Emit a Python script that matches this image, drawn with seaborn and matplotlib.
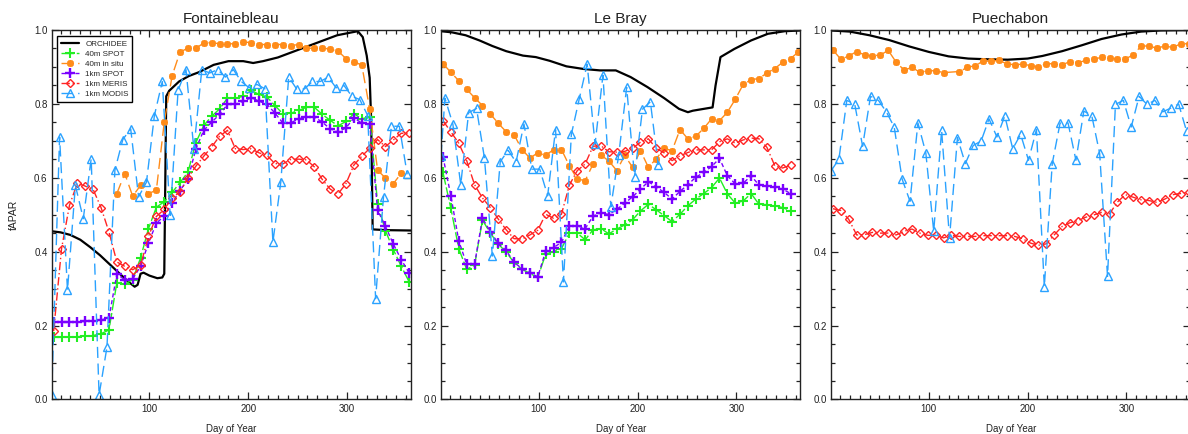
import numpy as np
import pandas as pd
import matplotlib
matplotlib.use("Agg")
import matplotlib.pyplot as plt
import seaborn as sns
from matplotlib.ticker import MultipleLocator

sns.set_style("ticks")
plt.rcParams['font.family'] = ['Liberation Sans', 'DejaVu Sans']

nan = np.nan

# 8-day composite days (SPOT, in situ, MERIS) and MODIS days
days8 = list(range(3, 364, 8))
modis_days = list(range(1, 362, 8))
modis_days_bray = [1] + list(range(5, 222, 8))

# ---------------- Fontainebleau ----------------
fon_orch_day = [1, 10, 20, 30, 40, 50, 60, 70, 78, 85, 88, 91, 94, 100, 108, 113, 115, 117, 120,
                130, 140, 150, 165, 180, 195, 205, 215, 230, 250, 270, 290, 305, 311, 316, 320,
                323, 324.5, 326, 340, 365]
fon_orch = [0.455, 0.452, 0.445, 0.432, 0.412, 0.39, 0.365, 0.34, 0.32, 0.305, 0.31, 0.34, 0.343,
            0.335, 0.328, 0.33, 0.34, 0.82, 0.835, 0.86, 0.875, 0.885, 0.905, 0.915, 0.915, 0.91,
            0.915, 0.925, 0.945, 0.965, 0.985, 0.993, 0.996, 0.98, 0.93, 0.87, 0.755, 0.46, 0.458,
            0.457]
fon_spot40 = [0.168, 0.168, 0.169, 0.170, 0.171, 0.173, 0.178, 0.188, 0.316, 0.312, 0.324, 0.383,
              0.462, 0.52, 0.535, 0.56, 0.587, 0.615, 0.695, 0.741, 0.766, 0.786, 0.815, 0.815,
              0.82, 0.836, 0.825, 0.818, 0.795, 0.773, 0.774, 0.782, 0.79, 0.79, 0.771, 0.755,
              0.74, 0.752, 0.773, 0.759, 0.765, 0.53, 0.456, 0.405, 0.36, 0.318]
fon_insitu = [nan, nan, nan, nan, nan, nan, nan, nan, 0.557, 0.611, 0.55, 0.579, 0.557, 0.566,
              0.75, 0.876, 0.94, 0.95, 0.95, 0.964, 0.965, 0.962, 0.962, 0.962, 0.967, 0.965,
              0.96, 0.96, 0.96, 0.96, 0.957, 0.96, 0.95, 0.95, 0.951, 0.947, 0.942, 0.922, 0.914,
              0.904, 0.786, 0.62, 0.599, 0.584, 0.612, nan]
fon_spot1k = [0.21, 0.21, 0.21, 0.21, 0.211, 0.212, 0.215, 0.221, 0.339, 0.324, 0.326, 0.36,
              0.423, 0.477, 0.496, 0.532, 0.565, 0.596, 0.678, 0.728, 0.75, 0.771, 0.798, 0.798,
              0.807, 0.816, 0.807, 0.798, 0.775, 0.748, 0.748, 0.759, 0.764, 0.764, 0.75, 0.732,
              0.723, 0.735, 0.761, 0.748, 0.746, 0.512, 0.468, 0.42, 0.378, 0.342]
fon_meris = [0.185, 0.408, 0.525, 0.585, 0.577, 0.568, 0.519, 0.453, 0.372, 0.36, 0.351, 0.363,
             0.441, 0.495, 0.514, 0.546, 0.561, 0.6, 0.631, 0.658, 0.683, 0.712, 0.728, 0.678,
             0.676, 0.678, 0.667, 0.66, 0.638, 0.637, 0.649, 0.65, 0.648, 0.629, 0.595, 0.569,
             0.556, 0.584, 0.634, 0.658, 0.679, 0.703, 0.684, 0.702, 0.72, 0.72]
fon_modis = [0.012, 0.71, 0.295, 0.579, 0.489, 0.651, 0.012, 0.142, 0.62, 0.703, 0.732, 0.548,
             0.588, 0.768, 0.86, 0.498, 0.836, 0.892, 0.678, 0.892, 0.883, 0.892, 0.872, 0.892,
             0.86, 0.843, 0.852, 0.84, 0.426, 0.588, 0.872, 0.84, 0.84, 0.86, 0.86, 0.872,
             0.843, 0.849, 0.82, 0.811, 0.768, 0.273, 0.548, 0.739, 0.739, 0.609]

# ---------------- Le Bray ----------------
bray_orch_day = [1, 12, 26, 40, 53, 67, 84, 97, 111, 128, 145, 162, 178, 193, 210, 227, 242, 251,
                 256, 276, 279, 284, 298, 315, 332, 349, 365]
bray_orch = [0.996, 0.993, 0.985, 0.971, 0.956, 0.942, 0.93, 0.926, 0.916, 0.901, 0.894, 0.89,
             0.89, 0.872, 0.845, 0.815, 0.786, 0.777, 0.781, 0.79, 0.849, 0.926, 0.948, 0.971,
             0.989, 0.996, 0.998]
bray_spot40 = [0.614, 0.517, 0.408, 0.352, 0.363, 0.485, 0.45, 0.42, 0.399, 0.37, 0.352, 0.341,
               0.33, 0.393, 0.4, 0.408, 0.45, 0.45, 0.432, 0.459, 0.462, 0.448, 0.461, 0.472,
               0.486, 0.51, 0.528, 0.513, 0.497, 0.481, 0.501, 0.524, 0.542, 0.557, 0.573, 0.599,
               0.556, 0.531, 0.537, 0.557, 0.528, 0.527, 0.524, 0.519, 0.51, nan]
bray_insitu = [0.908, 0.885, 0.862, 0.839, 0.816, 0.795, 0.772, 0.747, 0.724, 0.716, 0.676, 0.653,
               0.667, 0.66, 0.676, 0.676, 0.632, 0.596, 0.592, 0.637, 0.661, 0.645, 0.619, 0.66,
               0.628, 0.673, 0.628, 0.651, 0.679, 0.673, 0.73, 0.705, 0.712, 0.733, 0.759, 0.754,
               0.777, 0.812, 0.852, 0.865, 0.868, 0.883, 0.895, 0.912, 0.922, 0.94]
bray_spot1k = [0.657, 0.551, 0.429, 0.366, 0.366, 0.49, 0.454, 0.422, 0.403, 0.371, 0.354, 0.342,
               0.332, 0.401, 0.411, 0.425, 0.469, 0.47, 0.462, 0.496, 0.505, 0.5, 0.514, 0.531,
               0.548, 0.569, 0.589, 0.575, 0.56, 0.542, 0.563, 0.581, 0.601, 0.614, 0.63, 0.652,
               0.605, 0.583, 0.585, 0.605, 0.58, 0.578, 0.574, 0.569, 0.557, nan]
bray_meris = [0.754, 0.724, 0.693, 0.646, 0.581, 0.545, 0.519, 0.488, 0.459, 0.435, 0.434, 0.445,
              0.458, 0.501, 0.49, 0.501, 0.58, 0.619, 0.637, 0.685, 0.686, 0.67, 0.669, 0.671,
              0.679, 0.696, 0.705, 0.679, 0.667, 0.646, 0.659, 0.668, 0.675, 0.675, 0.675, 0.697,
              0.705, 0.693, 0.702, 0.707, 0.705, 0.682, 0.632, 0.626, 0.634, nan]
bray_modis = [0.659, 0.815, 0.745, 0.581, 0.776, 0.787, 0.653, 0.388, 0.643, 0.674, 0.642, 0.745,
              0.623, 0.623, 0.551, 0.73, 0.318, 0.717, 0.813, 0.907, 0.691, 0.877, 0.521, 0.662,
              0.844, 0.603, 0.785, 0.805, 0.634]

# ---------------- Puechabon ----------------
pue_orch_day = [1, 20, 40, 60, 80, 100, 120, 140, 160, 180, 200, 215, 235, 255, 275, 295, 315,
                335, 365]
pue_orch = [0.998, 0.995, 0.985, 0.972, 0.955, 0.94, 0.928, 0.922, 0.92, 0.919, 0.922, 0.929,
            0.942, 0.958, 0.975, 0.987, 0.995, 0.998, 0.999]
pue_insitu = [0.945, 0.92, 0.929, 0.941, 0.932, 0.929, 0.932, 0.944, 0.912, 0.891, 0.898, 0.885,
              0.889, 0.889, 0.884, nan, 0.887, 0.898, 0.903, 0.915, 0.915, 0.917, 0.908, 0.905,
              0.907, 0.903, 0.9, 0.908, 0.908, 0.905, 0.914, 0.911, 0.917, 0.921, 0.925, 0.923,
              0.921, 0.921, 0.932, 0.956, 0.956, 0.95, 0.956, 0.952, 0.962, 0.962]
pue_meris = [0.516, 0.511, 0.487, 0.445, 0.446, 0.452, 0.45, 0.45, 0.445, 0.455, 0.461, 0.45,
             0.444, 0.444, 0.437, 0.444, 0.441, 0.441, 0.441, 0.443, 0.443, 0.443, 0.443, 0.441,
             0.435, 0.423, 0.417, 0.421, 0.445, 0.468, 0.478, 0.484, 0.493, 0.499, 0.506, 0.502,
             0.534, 0.554, 0.547, 0.54, 0.538, 0.533, 0.542, 0.554, 0.557, 0.56]
pue_modis = [0.618, 0.65, 0.809, 0.799, 0.685, 0.82, 0.809, 0.778, 0.737, 0.596, 0.536, 0.748,
             0.667, 0.455, 0.728, 0.436, 0.708, 0.638, 0.687, 0.699, 0.759, 0.71, 0.767, 0.678,
             0.717, 0.647, 0.73, 0.305, 0.638, 0.748, 0.748, 0.647, 0.78, 0.768, 0.666, 0.333,
             0.798, 0.809, 0.737, 0.82, 0.798, 0.809, 0.778, 0.788, 0.799, 0.726]

# colours and styles per product
C_ORCH = 'black'
C_SPOT40 = '#22EE22'
C_INSITU = '#FF8C1A'
C_SPOT1K = '#7A00FF'
C_MERIS = '#FF2424'
C_MODIS = '#2AA2FF'


def draw_series(ax, x, y, color, marker=None, ls='-', label=None, ms=6, mfc='none', mew=1.0, lw=1.0):
    d = pd.DataFrame({'day': x, 'fapar': y}).dropna()
    kws = dict(color=color, linestyle=ls, linewidth=lw)
    if marker is not None:
        kws.update(marker=marker, markersize=ms, markerfacecolor=mfc,
                   markeredgecolor=color, markeredgewidth=mew)
    sns.lineplot(data=d, x='day', y='fapar', ax=ax, errorbar=None, legend=False,
                 label=label, **kws)


def draw_panel(ax, title, orch_day, orch, spot40, insitu, spot1k, meris, mdays, modis, labels=False):
    lab = (lambda s: s) if labels else (lambda s: None)
    draw_series(ax, orch_day, orch, C_ORCH, ls='-', lw=1.6, label=lab('ORCHIDEE'))
    draw_series(ax, days8, spot40, C_SPOT40, marker='+', ls=(0, (9, 2)), ms=7, mew=1.5,
                label=lab('40m SPOT'))
    draw_series(ax, days8, insitu, C_INSITU, marker=(8, 2, 0), ls=(0, (8, 4)), ms=5, mew=1.3,
                label=lab('40m in situ'))
    draw_series(ax, days8, spot1k, C_SPOT1K, marker='+', ls=(0, (3, 2)), ms=7, mew=1.7,
                label=lab('1km SPOT'))
    draw_series(ax, days8, meris, C_MERIS, marker='D', ls=(0, (6, 2, 1, 2)), ms=4, mew=1.0,
                label=lab('1km MERIS'))
    draw_series(ax, mdays, modis, C_MODIS, marker='^', ls=(0, (8, 4)), ms=6, mew=1.0,
                label=lab('1km MODIS'))

    ax.set_xlim(1, 365)
    ax.set_ylim(0, 1)
    ax.xaxis.set_major_locator(MultipleLocator(100))
    ax.xaxis.set_minor_locator(MultipleLocator(10))
    ax.yaxis.set_major_locator(MultipleLocator(0.2))
    ax.yaxis.set_minor_locator(MultipleLocator(0.05))
    ax.tick_params(which='both', direction='in', top=True, right=True, labelsize=7,
                   width=0.9, colors='#222222', pad=3)
    ax.tick_params(which='major', length=5)
    ax.tick_params(which='minor', length=2.6)
    for s in ax.spines.values():
        s.set_linewidth(1.0)
        s.set_color('#222222')
    ax.set_title(title, fontsize=11, pad=5, color='#222222')
    ax.set_xlabel('Day of Year', fontsize=7, color='#222222')
    ax.xaxis.set_label_coords(0.5, -0.066)
    ax.set_ylabel('')


fig = plt.figure(figsize=(11.88, 4.34), dpi=100)
bottom, height, width = 0.0795, 0.852, 0.3026
ax1 = fig.add_axes([0.0435, bottom, width, height])
ax2 = fig.add_axes([0.3712, bottom, width, height])
ax3 = fig.add_axes([0.6995, bottom, width, height])

draw_panel(ax1, 'Fontainebleau', fon_orch_day, fon_orch, fon_spot40, fon_insitu, fon_spot1k,
           fon_meris, modis_days, fon_modis, labels=True)
draw_panel(ax2, 'Le Bray', bray_orch_day, bray_orch, bray_spot40, bray_insitu, bray_spot1k,
           bray_meris, modis_days_bray, bray_modis)
none46 = [nan] * len(days8)
draw_panel(ax3, 'Puechabon', pue_orch_day, pue_orch, none46, pue_insitu, none46, pue_meris,
           modis_days, pue_modis)

ax1.set_ylabel('fAPAR', fontsize=7.5, color='#222222')
ax1.yaxis.set_label_coords(-0.09, 0.5)

leg = ax1.legend(loc='upper left', bbox_to_anchor=(0.016, 0.982), fontsize=5.8, frameon=True,
                 fancybox=False, edgecolor='black', framealpha=1, handlelength=2.2,
                 labelspacing=0.3, borderpad=0.45, handletextpad=0.8, borderaxespad=0)
leg.get_frame().set_linewidth(1.0)

fig.savefig('out.png', dpi=100)
